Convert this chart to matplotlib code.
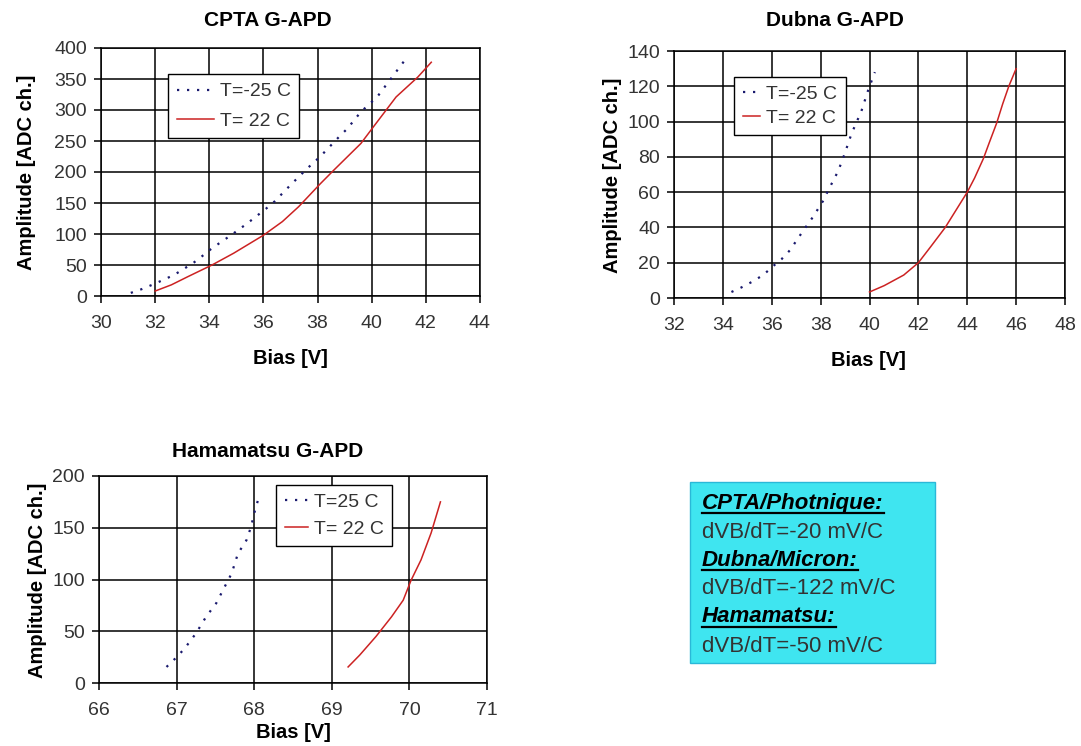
import matplotlib
matplotlib.use("Agg")
import matplotlib.pyplot as plt
from matplotlib.lines import Line2D

# ---- data -----------------------------------------------------------------
cpta_cold_x = [31.1, 31.5, 32.0, 32.3, 32.7, 33.4, 33.7, 34.1, 34.8, 35.4, 36.1,
               36.4, 37.0, 37.6, 38.1, 38.8, 39.1, 39.6, 40.2, 40.7, 41.2]
cpta_cold_y = [5, 11, 20, 26, 34, 53, 63, 77, 98, 117, 141,
               152, 179, 205, 225, 257, 270, 297, 321, 350, 379]
cpta_warm_x = [32.0, 32.6, 33.2, 34.1, 34.9, 36.0, 36.7, 37.3, 38.1, 38.6,
               39.6, 40.1, 40.9, 41.7, 42.2]
cpta_warm_y = [8, 18, 31, 50, 69, 98, 120, 144, 181, 203, 246, 275, 321, 353, 377]

dubna_cold_x = [34.35, 34.76, 35.17, 35.65, 36.05, 36.4, 36.74, 37.28, 37.69,
                38.1, 38.31, 38.72, 38.99, 39.26, 39.67, 39.95, 40.22]
dubna_cold_y = [3.4, 6, 9, 13, 18, 22, 27, 38, 46, 55, 61, 72, 82, 93, 106, 118, 128]
dubna_warm_x = [40.0, 40.6, 41.4, 42.0, 42.5, 43.1, 44.0, 44.3, 44.66, 44.9,
                45.2, 45.45, 45.7, 46.0]
dubna_warm_y = [3.4, 7, 13, 20, 29, 40, 60, 68, 79, 88, 99, 110, 120, 130]

hama_cold_x = [66.87, 66.98, 67.1, 67.25, 67.38, 67.51, 67.62, 67.71, 67.79,
               67.9, 67.96, 68.0, 68.05]
hama_cold_y = [15.5, 23.5, 33, 48, 64, 77, 93, 106, 125, 138, 151, 164, 177]
hama_warm_x = [69.21, 69.36, 69.57, 69.77, 69.92, 70.02, 70.15, 70.28, 70.4]
hama_warm_y = [15.5, 27, 45, 64, 80, 99, 119, 145, 175]

notes = [("CPTA/Photnique:", "dVB/dT=-20 mV/C"),
         ("Dubna/Micron:", "dVB/dT=-122 mV/C"),
         ("Hamamatsu:", "dVB/dT=-50 mV/C")]

plt.rcParams["font.family"] = ["Liberation Sans", "DejaVu Sans"]

W, H = 1081, 746
fig = plt.figure(figsize=(W / 100, H / 100), dpi=100)


def px_axes(x0, y0, x1, y1):
    # pixel box (left, top, right, bottom) -> figure fraction axes
    return fig.add_axes([x0 / W, 1 - y1 / H, (x1 - x0) / W, (y1 - y0) / H])


def style(ax, xlim, xticks, ylim, yticks):
    ax.set_xlim(*xlim)
    ax.set_ylim(*ylim)
    ax.set_xticks(xticks)
    ax.set_yticks(yticks)
    ax.grid(True, color="black", linewidth=1.1)
    ax.set_axisbelow(True)
    for s in ax.spines.values():
        s.set_color("black")
        s.set_linewidth(1.1)
    ax.tick_params(direction="out", length=5, width=1.1, labelsize=14,
                   labelcolor="#333333", pad=5)
    ax.tick_params(axis="x", pad=9)


def panel(box, title, tpos, ypos, xpos, cold, warm, labels, legloc, hlen,
          lspace, xlim, xticks, ylim, yticks):
    ax = px_axes(*box)
    style(ax, xlim, xticks, ylim, yticks)
    ax.plot(*cold, color="#1a1a6e", linestyle=(0, (1, 3.5)), linewidth=1.6,
            label=labels[0], clip_on=False)
    ax.plot(*warm, color="#cc2222", linewidth=1.1, label=labels[1], clip_on=False)
    leg = ax.legend(loc="upper left", bbox_to_anchor=legloc, fontsize=14,
                    frameon=True, fancybox=False, handlelength=hlen,
                    handletextpad=0.3, borderpad=0.45, labelspacing=lspace,
                    borderaxespad=0, labelcolor="#333333", framealpha=1)
    leg.get_frame().set_edgecolor("black")
    leg.get_frame().set_linewidth(1.0)
    fig.text(tpos[0] / W, 1 - tpos[1] / H, title, ha="center", va="center",
             fontsize=15, fontweight="bold")
    fig.text(ypos[0] / W, 1 - ypos[1] / H, "Amplitude [ADC ch.]", ha="center",
             va="center", rotation=90, fontsize=14.5, fontweight="bold")
    fig.text(xpos[0] / W, 1 - xpos[1] / H, "Bias [V]", ha="center",
             va="center", fontsize=14.5, fontweight="bold")
    return ax


panel((101, 48, 480, 296), "CPTA G-APD", (268, 21), (27, 172), (290, 358),
      (cpta_cold_x, cpta_cold_y), (cpta_warm_x, cpta_warm_y),
      ["T=-25 C", "T= 22 C"], (0.177, 0.895), 1.9, 0.6,
      (30, 44), range(30, 45, 2), (0, 400), range(0, 401, 50))

panel((674, 51, 1065, 298), "Dubna G-APD", (835, 20), (613, 175), (868, 360),
      (dubna_cold_x, dubna_cold_y), (dubna_warm_x, dubna_warm_y),
      ["T=-25 C", "T= 22 C"], (0.153, 0.895), 0.9, 0.3,
      (32, 48), range(32, 49, 2), (0, 140), range(0, 141, 20))

panel((99, 476, 487, 683), "Hamamatsu G-APD", (268, 452), (38, 580), (293, 733),
      (hama_cold_x, hama_cold_y), (hama_warm_x, hama_warm_y),
      ["T=25 C", "T= 22 C"], (0.456, 0.957), 1.2, 0.45,
      (66, 71), range(66, 72), (0, 200), range(0, 201, 50))

# ---- text box ---------------------------------------------------------------
bx0, by0, bx1, by1 = 690, 482, 935, 663
fig.patches.append(plt.Rectangle((bx0 / W, 1 - by1 / H), (bx1 - bx0) / W,
                                 (by1 - by0) / H, transform=fig.transFigure,
                                 facecolor="#3fe5f0", edgecolor="#2ab8d8",
                                 linewidth=1.0))
heads = []
ty = 503
for head, val in notes:
    heads.append(fig.text(702 / W, 1 - ty / H, head, ha="left", va="center",
                          fontsize=16, fontweight="bold", fontstyle="italic",
                          color="black"))
    fig.text(702 / W, 1 - (ty + 29) / H, val, ha="left", va="center",
             fontsize=16, color="#333333")
    ty += 57

# underline the headers
fig.canvas.draw()
r = fig.canvas.get_renderer()
for t in heads:
    bb = t.get_window_extent(r).transformed(fig.transFigure.inverted())
    y = bb.y0 + 0.5 / H
    fig.add_artist(Line2D([bb.x0, bb.x1], [y, y], transform=fig.transFigure,
                          color="black", linewidth=1.6))

fig.savefig("out.png", dpi=100)
